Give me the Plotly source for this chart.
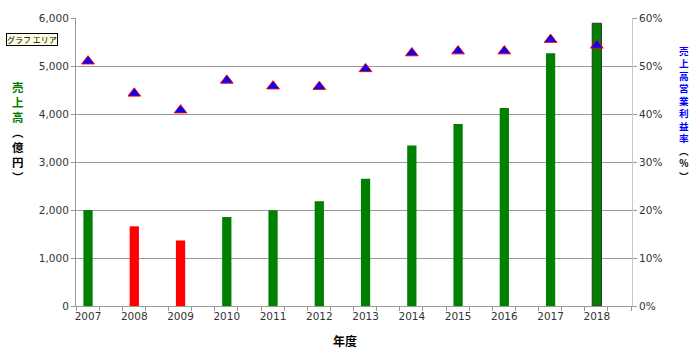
import plotly.graph_objects as go

years = [2007, 2008, 2009, 2010, 2011, 2012, 2013, 2014, 2015, 2016, 2017, 2018]
sales = [2000, 1660, 1365, 1855, 1995, 2180, 2650, 3345, 3790, 4125, 5265, 5890]
margin_pct = [0.510, 0.443, 0.408, 0.470, 0.458, 0.457, 0.494, 0.527, 0.531, 0.531, 0.555, 0.543]
y_ticks = [0, 1000, 2000, 3000, 4000, 5000, 6000]
y_tick_labels = ["0", "1,000", "2,000", "3,000", "4,000", "5,000", "6,000"]
y2_ticks = [0, 0.1, 0.2, 0.3, 0.4, 0.5, 0.6]
y2_tick_labels = ["0%", "10%", "20%", "30%", "40%", "50%", "60%"]

colors = ["#008000"] + ["#FF0000" if sales[i] < sales[i - 1] else "#008000" for i in range(1, len(sales))]
line_colors = ["rgba(0,0,0,0)"] * (len(sales) - 1) + ["#333333"]

FONT = "DejaVu Sans"
CJK = "Noto Sans CJK JP"
fig = go.Figure()
fig.add_trace(go.Bar(x=years, y=sales, width=0.2, marker=dict(color=colors, line=dict(color=line_colors, width=1)),
                     showlegend=False))
fig.add_trace(go.Scatter(x=years, y=margin_pct, yaxis="y2", mode="markers",
                         marker=dict(symbol="triangle-up", size=11, color="#0000FF",
                                     line=dict(color="#FF0000", width=1)),
                         showlegend=False))

fig.update_layout(
    width=700, height=353,
    margin=dict(l=76, r=68, t=12, b=47),
    paper_bgcolor="white", plot_bgcolor="white",
    font=dict(family=FONT, size=10.5, color="#333333"),
    xaxis=dict(range=[2006.74, 2018.76], tickvals=years, ticktext=[str(y) for y in years],
               ticks="", showgrid=False, showline=True, linecolor="#999999", zeroline=False,
               minor=dict(tick0=2006.74, dtick=0.5, ticks="outside", ticklen=4, tickcolor="#999999", showgrid=False),
               tickfont=dict(family=FONT, size=10.5, color="#333333")),
    yaxis=dict(range=[0, 6000], tickvals=y_ticks, ticktext=y_tick_labels, showgrid=True,
               gridcolor="#999999", gridwidth=1, showline=True, linecolor="#999999", ticks="outside",
               ticklen=4, tickcolor="#999999", zeroline=False),
    yaxis2=dict(range=[0, 0.6], tickvals=y2_ticks, ticktext=y2_tick_labels, overlaying="y", side="right",
                showgrid=False, showline=True, linecolor="#c8c8c8", ticks="outside", ticklen=4,
                tickcolor="#999999", zeroline=False),
)

pw, ph = 700 - 76 - 68, 353 - 12 - 47


def px(x):
    return (x - 76) / pw


def py(y):
    return 1 - (y - 12) / ph


left_title = ("<b><span style='color:#008000'>売<br>上<br>高</span><br>"
              "︵<br>億<br>円<br>︶</b>")
right_title = ("<b><span style='color:#0000FF'>売<br>上<br>高<br>営<br>業<br>利<br>益<br>率</span><br>"
               "︵<br>%<br>︶</b>")
ann = [
    dict(text=left_title, x=px(18), y=py(72), xanchor="center", yanchor="top",
         font=dict(family=CJK, size=11.5, color="#000000")),
    dict(text=right_title, x=px(684), y=py(37), xanchor="center", yanchor="top",
         font=dict(family=CJK, size=9.6, color="#000000")),
    dict(text="<b>年度</b>", x=px(345), y=py(341), xanchor="center", yanchor="middle",
         font=dict(family=CJK, size=12, color="#000000")),
    dict(text="グラフ エリア", x=px(32), y=py(34), xanchor="center", yanchor="middle", bgcolor="#FFFFE1",
         bordercolor="#000000", borderwidth=1, borderpad=0,
         font=dict(family=CJK, size=8, color="#000000")),
]
for a in ann:
    a["xref"] = "paper"
    a["yref"] = "paper"
    a["showarrow"] = False
fig.update_layout(annotations=ann)
fig.write_html("out.html")
